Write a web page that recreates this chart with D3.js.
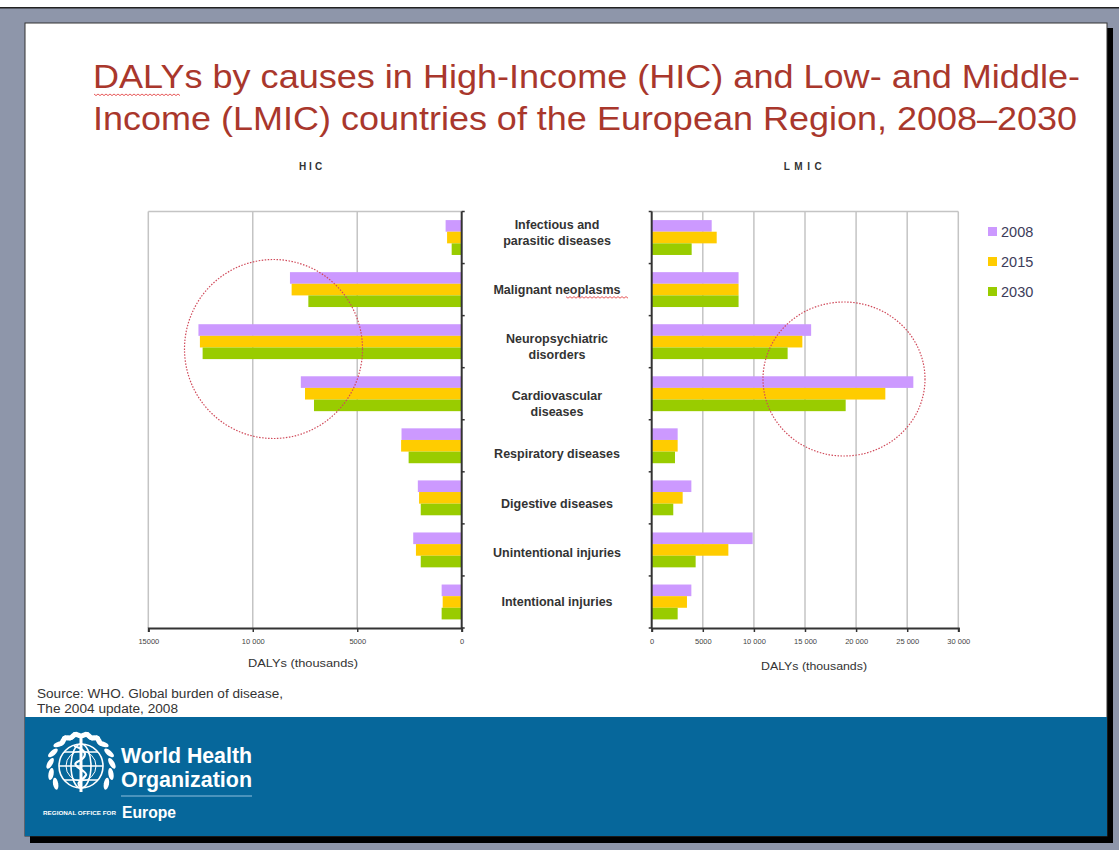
<!doctype html>
<html lang="en">
  <head>
    <meta charset="utf-8">
    <title>DALYs by causes, HIC and LMIC, 2008-2030</title>
    <script src="https://d3js.org/d3.v7.min.js"></script>
    <style>
      body { margin: 0; background: #8e96aa; }
      svg { display: block; font-family: 'Liberation Sans', Arial, sans-serif; }
    </style>
  </head>
  <body>
    <div id="root"></div>
  <script>

    // data (DALYs, thousands)
    const categories = ["Infectious and parasitic diseases", "Malignant neoplasms", "Neuropsychiatric disorders",
      "Cardiovascular diseases", "Respiratory diseases", "Digestive diseases", "Unintentional injuries", "Intentional injuries"];
    const catLines = [["Infectious and", "parasitic diseases"], ["Malignant neoplasms"], ["Neuropsychiatric", "disorders"],
      ["Cardiovascular", "diseases"], ["Respiratory diseases"], ["Digestive diseases"], ["Unintentional injuries"], ["Intentional injuries"]];
    const years = ["2008", "2015", "2030"];
    const hic2008 = [770, 8220, 12600, 7700, 2880, 2100, 2320, 960];
    const hic2015 = [700, 8140, 12530, 7500, 2900, 2040, 2190, 910];
    const hic2030 = [480, 7340, 12400, 7070, 2540, 1960, 1960, 960];
    const lmic2008 = [5870, 8500, 15600, 25600, 2540, 3880, 9880, 3880];
    const lmic2015 = [6360, 8500, 14740, 22860, 2540, 3030, 7500, 3450];
    const lmic2030 = [3910, 8500, 13300, 18980, 2280, 2110, 4300, 2540];
    const hicTicks = [0, 5000, 10000, 15000];
    const hicTickLabels = ["0", "5000", "10 000", "15000"];
    const lmicTicks = [0, 5000, 10000, 15000, 20000, 25000, 30000];
    const lmicTickLabels = ["0", "5000", "10 000", "15 000", "20 000", "25 000", "30 000"];
    const colors = ["#cc99ff", "#ffcc00", "#99cc00"];

    const hic = [hic2008, hic2015, hic2030];
    const lmic = [lmic2008, lmic2015, lmic2030];

    // label offsets from band centre (the slide's labels don't sit exactly on the bands)
    const labelShift = [-5, 0, 5, 10, 8, 6, 3, 0];

    const W = 1119, H = 850;
    const svg = d3.select("#root").append("svg").attr("width", W).attr("height", H);

    // slide frame
    svg.append("rect").attr("x", 0).attr("y", 0).attr("width", W).attr("height", H).attr("fill", "#8e96aa");
    svg.append("rect").attr("x", 0).attr("y", 0).attr("width", W).attr("height", 7).attr("fill", "#fff");
    svg.append("rect").attr("x", 0).attr("y", 7).attr("width", W).attr("height", 1.5).attr("fill", "#222");
    svg.append("rect").attr("x", 30).attr("y", 28).attr("width", 1083).attr("height", 815).attr("fill", "#000");
    svg.append("rect").attr("x", 25).attr("y", 23).attr("width", 1082).attr("height", 813)
      .attr("fill", "#fff").attr("stroke", "#333").attr("stroke-width", 1);
    svg.append("rect").attr("x", 25).attr("y", 717).attr("width", 1082).attr("height", 119).attr("fill", "#06679b");

    // title
    const title = svg.append("text").attr("fill", "#a9372c").attr("font-size", 33);
    title.append("tspan").attr("x", 93).attr("y", 88).attr("textLength", 987).attr("lengthAdjust", "spacingAndGlyphs")
      .text("DALYs by causes in High-Income (HIC) and Low- and Middle-");
    title.append("tspan").attr("x", 93).attr("y", 130).attr("textLength", 984).attr("lengthAdjust", "spacingAndGlyphs")
      .text("Income (LMIC) countries of the European Region, 2008\u20132030");

    // spell-check squiggles
    function squiggle(x0, x1, yy) {
      let d = `M${x0},${yy}`;
      for (let x = x0, k = 0; x < x1; x += 2, k++) d += `L${x + 2},${yy + (k % 2 ? 0 : 1.6)}`;
      svg.append("path").attr("d", d).attr("fill", "none").attr("stroke", "#e03030").attr("stroke-width", 0.8);
    }
    squiggle(94, 180, 94);

    // scales
    const plotTop = 211.5, plotBottom = 628;
    const xL = d3.scaleLinear().domain([0, 15000]).range([461.7, 148.3]);
    const xR = d3.scaleLinear().domain([0, 30000]).range([651.7, 958.3]);
    const y = d3.scaleBand().domain(categories).range([plotTop, plotBottom]).paddingInner(0.33).paddingOuter(0.165);
    const yi = d3.scaleBand().domain(years).range([0, y.bandwidth()]);

    function panel(x, vals, ticks, tickLabels, leftSide) {
      const g = svg.append("g");
      const x0 = x(0), xEnd = x(ticks[ticks.length - 1]);
      // grid
      g.selectAll(".grid").data(ticks.slice(1)).enter().append("line")
        .attr("x1", d => x(d)).attr("x2", d => x(d)).attr("y1", plotTop).attr("y2", plotBottom)
        .attr("stroke", "#c4c4c4").attr("stroke-width", 1.5);
      g.append("line").attr("x1", x0).attr("x2", xEnd).attr("y1", plotTop).attr("y2", plotTop)
        .attr("stroke", "#c4c4c4").attr("stroke-width", 1.5);
      // bars
      years.forEach((yr, s) => {
        g.selectAll(".b" + s).data(vals[s]).enter().append("rect")
          .attr("x", d => Math.min(x(d), x0))
          .attr("y", (d, i) => y(categories[i]) + yi(yr))
          .attr("width", d => Math.abs(x(d) - x0))
          .attr("height", yi.bandwidth())
          .attr("fill", colors[s]);
      });
      // x axis
      const ax = g.append("g").attr("transform", `translate(0,${plotBottom})`)
        .call(d3.axisBottom(x).tickValues(ticks).tickSize(4).tickFormat((d, i) => tickLabels[i]));
      ax.select(".domain").attr("stroke", "#333").attr("stroke-width", 2);
      ax.selectAll(".tick line").attr("stroke", "#333").attr("stroke-width", 1.5);
      ax.selectAll("text").attr("font-size", 7.5).attr("fill", "#444").attr("dy", "1.2em");
      // y axis line with ticks at category boundaries
      g.append("line").attr("x1", x0).attr("x2", x0).attr("y1", plotTop).attr("y2", plotBottom)
        .attr("stroke", "#333").attr("stroke-width", 2);
      const step = y.step();
      g.selectAll(".yt").data(d3.range(9)).enter().append("line")
        .attr("x1", x0).attr("x2", x0 + (leftSide ? 3 : -3))
        .attr("y1", d => plotTop + d * step).attr("y2", d => plotTop + d * step)
        .attr("stroke", "#333").attr("stroke-width", 1.5);
      return g;
    }
    panel(xL, hic, hicTicks, hicTickLabels, true);
    panel(xR, lmic, lmicTicks, lmicTickLabels, false);

    // panel titles and axis titles
    svg.append("text").attr("x", 312).attr("y", 170).attr("text-anchor", "middle")
      .attr("font-size", 10).attr("font-weight", "bold").attr("letter-spacing", 3).attr("fill", "#333").text("HIC");
    svg.append("text").attr("x", 805).attr("y", 170).attr("text-anchor", "middle")
      .attr("font-size", 10).attr("font-weight", "bold").attr("letter-spacing", 4.5).attr("fill", "#333").text("LMIC");
    svg.append("text").attr("x", 248).attr("y", 667).attr("textLength", 110).attr("lengthAdjust", "spacingAndGlyphs")
      .attr("font-size", 11).attr("fill", "#333").text("DALYs (thousands)");
    svg.append("text").attr("x", 761).attr("y", 670).attr("textLength", 106).attr("lengthAdjust", "spacingAndGlyphs")
      .attr("font-size", 11).attr("fill", "#333").text("DALYs (thousands)");

    // category labels
    catLines.forEach((lines, i) => {
      const cy = y(categories[i]) + y.bandwidth() / 2 + labelShift[i];
      const t = svg.append("text").attr("text-anchor", "middle").attr("font-size", 12.5)
        .attr("font-weight", "bold").attr("fill", "#333");
      lines.forEach((ln, j) => {
        t.append("tspan").attr("x", 557)
          .attr("y", cy + 4.5 + (j - (lines.length - 1) / 2) * 16)
          .text(ln);
      });
      if (i === 1) squiggle(566, 627, cy + 7);
    });

    // highlight circles
    svg.append("ellipse").attr("cx", 273.5).attr("cy", 349).attr("rx", 89).attr("ry", 89.5)
      .attr("fill", "none").attr("stroke", "#d04a5a").attr("stroke-width", 1.2).attr("stroke-dasharray", "1.5,1.5");
    svg.append("ellipse").attr("cx", 844).attr("cy", 379).attr("rx", 81).attr("ry", 77)
      .attr("fill", "none").attr("stroke", "#d04a5a").attr("stroke-width", 1.2).attr("stroke-dasharray", "1.5,1.5");

    // legend
    const leg = svg.append("g");
    years.forEach((yr, s) => {
      leg.append("rect").attr("x", 988).attr("y", 227 + s * 30).attr("width", 9).attr("height", 9).attr("fill", colors[s]);
      leg.append("text").attr("x", 1001).attr("y", 237 + s * 30).attr("font-size", 14.5)
        .attr("fill", "#3c3c5a").text(yr);
    });

    // source
    svg.append("text").attr("x", 37).attr("y", 698).attr("textLength", 246).attr("lengthAdjust", "spacingAndGlyphs")
      .attr("font-size", 12).attr("fill", "#333").text("Source: WHO. Global burden of disease,");
    svg.append("text").attr("x", 37).attr("y", 713).attr("textLength", 141).attr("lengthAdjust", "spacingAndGlyphs")
      .attr("font-size", 12).attr("fill", "#333").text("The 2004 update, 2008");

    // WHO logo
    const logo = svg.append("g").attr("transform", "translate(81,766)")
      .attr("fill", "none").attr("stroke", "#fff").attr("stroke-width", 1.6);
    logo.append("circle").attr("r", 22);
    logo.append("ellipse").attr("rx", 10).attr("ry", 22);
    [-14, 0, 14].forEach(v => logo.append("line").attr("x1", -Math.sqrt(484 - v * v)).attr("x2", Math.sqrt(484 - v * v))
      .attr("y1", v).attr("y2", v));
    logo.append("circle").attr("r", 15).attr("stroke-width", 1);
    [-1, 1].forEach(sd => {
      d3.range(9).forEach(k => {
        const deg = 215 - k * 20;
        const a = deg * Math.PI / 180;
        const cx = sd * 31 * Math.cos(a), cy = -31 * Math.sin(a);
        logo.append("ellipse").attr("cx", cx).attr("cy", cy)
          .attr("rx", 6).attr("ry", 2.6).attr("fill", "#fff").attr("stroke", "none")
          .attr("transform", `rotate(${sd * (90 - deg) + sd * 25},${cx},${cy})`);
      });
    });
    logo.append("line").attr("x1", 0).attr("x2", 0).attr("y1", -32).attr("y2", 26).attr("stroke-width", 3);
    logo.append("path").attr("d", "M-7,-20 C7,-16 7,-9 -4,-4 C-11,0 7,5 5,9 C3,14 -7,16 0,21").attr("stroke-width", 2.2);

    svg.append("text").attr("x", 121).attr("y", 763).attr("font-size", 22).attr("font-weight", "bold")
      .attr("textLength", 131).attr("lengthAdjust", "spacingAndGlyphs")
      .attr("fill", "#fff").text("World Health");
    svg.append("text").attr("x", 121).attr("y", 787).attr("font-size", 22).attr("font-weight", "bold")
      .attr("textLength", 131).attr("lengthAdjust", "spacingAndGlyphs")
      .attr("fill", "#fff").text("Organization");
    svg.append("line").attr("x1", 121).attr("x2", 252).attr("y1", 796).attr("y2", 796)
      .attr("stroke", "#8fc0dd").attr("stroke-width", 1);
    svg.append("text").attr("x", 43).attr("y", 815).attr("font-size", 6).attr("font-weight", "bold")
      .attr("textLength", 73).attr("lengthAdjust", "spacingAndGlyphs")
      .attr("fill", "#fff").text("REGIONAL OFFICE FOR");
    svg.append("text").attr("x", 122).attr("y", 818).attr("font-size", 17).attr("font-weight", "bold")
      .attr("textLength", 54).attr("lengthAdjust", "spacingAndGlyphs")
      .attr("fill", "#fff").text("Europe");

  </script>
  </body>
</html>
